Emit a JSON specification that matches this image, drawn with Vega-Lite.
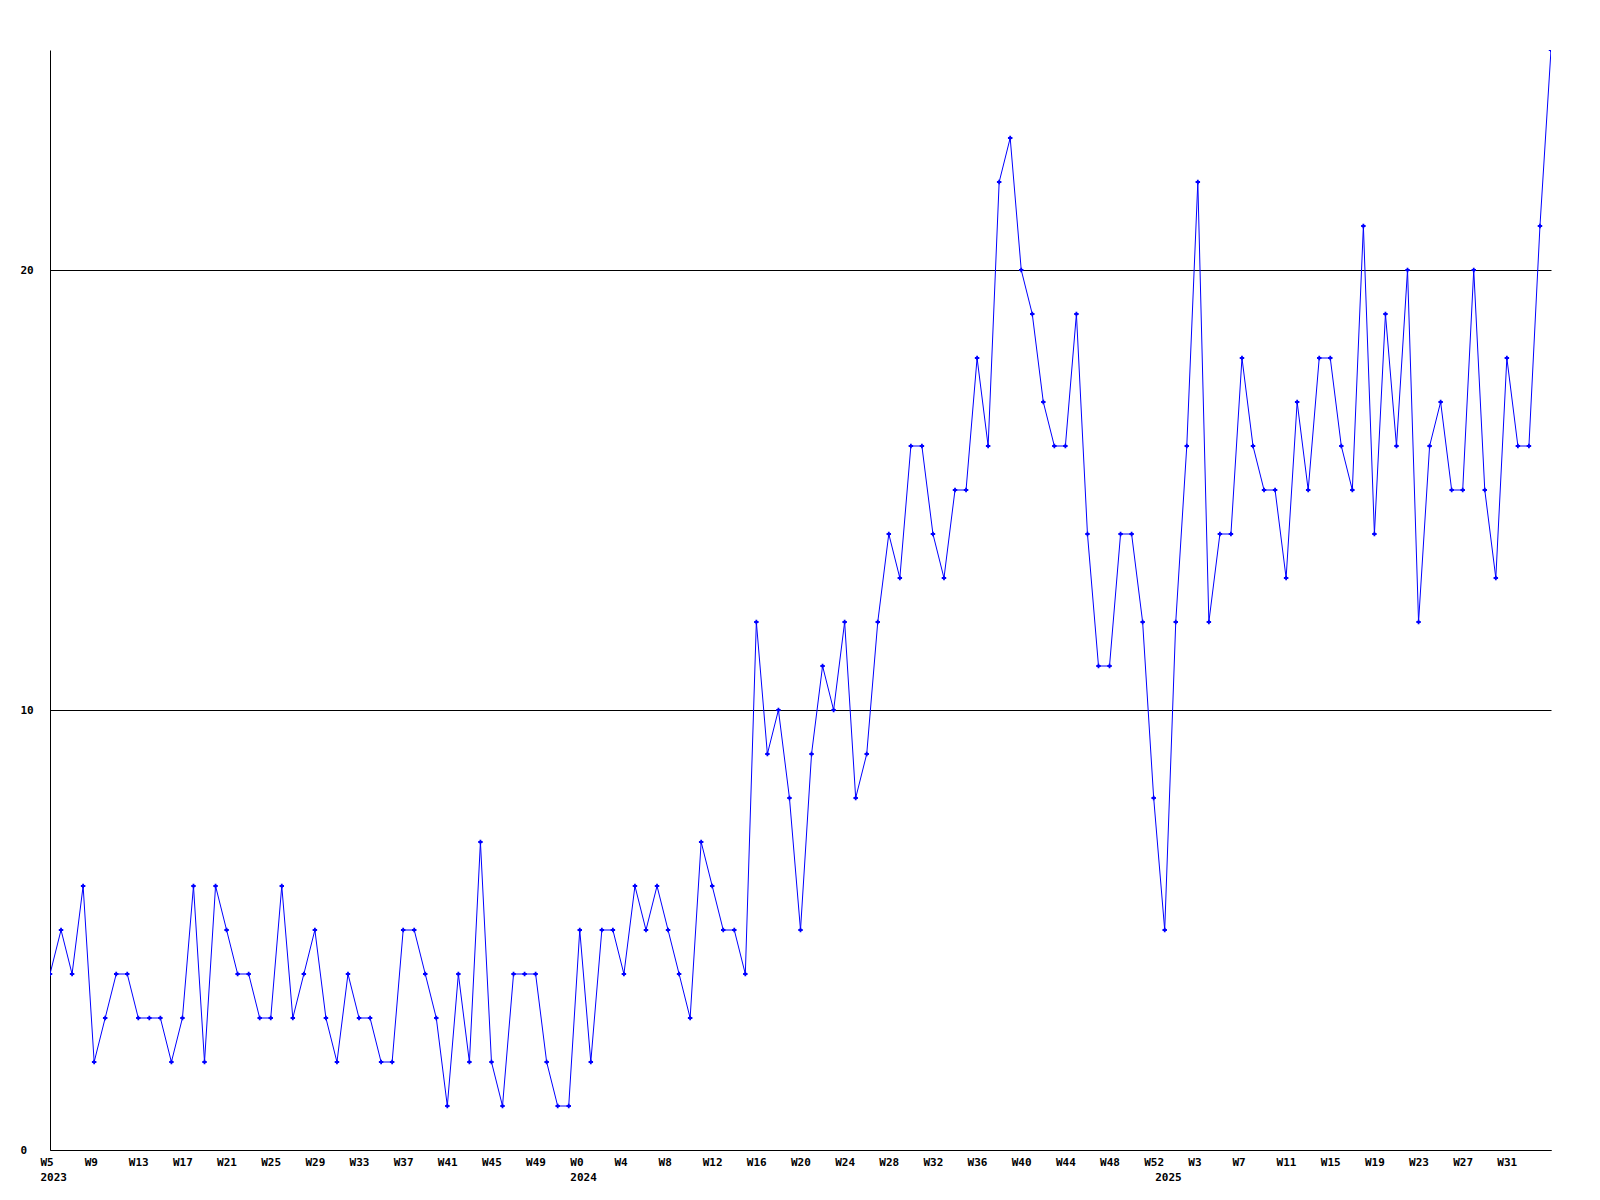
{
  "$schema": "https://vega.github.io/schema/vega-lite/v6.json",
  "width": 1501,
  "height": 1100,
  "autosize": "none",
  "padding": {"left": 50, "top": 50, "right": 49, "bottom": 50},
  "background": "white",
  "config": {
    "view": {"stroke": null},
    "axis": {"labelFont": "DejaVu Sans Mono", "labelFontWeight": "bold", "labelFontSize": 11, "labelColor": "black", "domainColor": "black", "domainWidth": 1, "ticks": false, "tickSize": 0, "title": null}
  },
  "data": {"values": [
    {"week": "2023 W5", "count": 4}, {"week": "2023 W6", "count": 5}, {"week": "2023 W7", "count": 4}, {"week": "2023 W8", "count": 6},
    {"week": "2023 W9", "count": 2}, {"week": "2023 W10", "count": 3}, {"week": "2023 W11", "count": 4}, {"week": "2023 W12", "count": 4},
    {"week": "2023 W13", "count": 3}, {"week": "2023 W14", "count": 3}, {"week": "2023 W15", "count": 3}, {"week": "2023 W16", "count": 2},
    {"week": "2023 W17", "count": 3}, {"week": "2023 W18", "count": 6}, {"week": "2023 W19", "count": 2}, {"week": "2023 W20", "count": 6},
    {"week": "2023 W21", "count": 5}, {"week": "2023 W22", "count": 4}, {"week": "2023 W23", "count": 4}, {"week": "2023 W24", "count": 3},
    {"week": "2023 W25", "count": 3}, {"week": "2023 W26", "count": 6}, {"week": "2023 W27", "count": 3}, {"week": "2023 W28", "count": 4},
    {"week": "2023 W29", "count": 5}, {"week": "2023 W30", "count": 3}, {"week": "2023 W31", "count": 2}, {"week": "2023 W32", "count": 4},
    {"week": "2023 W33", "count": 3}, {"week": "2023 W34", "count": 3}, {"week": "2023 W35", "count": 2}, {"week": "2023 W36", "count": 2},
    {"week": "2023 W37", "count": 5}, {"week": "2023 W38", "count": 5}, {"week": "2023 W39", "count": 4}, {"week": "2023 W40", "count": 3},
    {"week": "2023 W41", "count": 1}, {"week": "2023 W42", "count": 4}, {"week": "2023 W43", "count": 2}, {"week": "2023 W44", "count": 7},
    {"week": "2023 W45", "count": 2}, {"week": "2023 W46", "count": 1}, {"week": "2023 W47", "count": 4}, {"week": "2023 W48", "count": 4},
    {"week": "2023 W49", "count": 4}, {"week": "2023 W50", "count": 2}, {"week": "2023 W51", "count": 1}, {"week": "2023 W52", "count": 1},
    {"week": "2024 W0", "count": 5}, {"week": "2024 W1", "count": 2}, {"week": "2024 W2", "count": 5}, {"week": "2024 W3", "count": 5},
    {"week": "2024 W4", "count": 4}, {"week": "2024 W5", "count": 6}, {"week": "2024 W6", "count": 5}, {"week": "2024 W7", "count": 6},
    {"week": "2024 W8", "count": 5}, {"week": "2024 W9", "count": 4}, {"week": "2024 W10", "count": 3}, {"week": "2024 W11", "count": 7},
    {"week": "2024 W12", "count": 6}, {"week": "2024 W13", "count": 5}, {"week": "2024 W14", "count": 5}, {"week": "2024 W15", "count": 4},
    {"week": "2024 W16", "count": 12}, {"week": "2024 W17", "count": 9}, {"week": "2024 W18", "count": 10}, {"week": "2024 W19", "count": 8},
    {"week": "2024 W20", "count": 5}, {"week": "2024 W21", "count": 9}, {"week": "2024 W22", "count": 11}, {"week": "2024 W23", "count": 10},
    {"week": "2024 W24", "count": 12}, {"week": "2024 W25", "count": 8}, {"week": "2024 W26", "count": 9}, {"week": "2024 W27", "count": 12},
    {"week": "2024 W28", "count": 14}, {"week": "2024 W29", "count": 13}, {"week": "2024 W30", "count": 16}, {"week": "2024 W31", "count": 16},
    {"week": "2024 W32", "count": 14}, {"week": "2024 W33", "count": 13}, {"week": "2024 W34", "count": 15}, {"week": "2024 W35", "count": 15},
    {"week": "2024 W36", "count": 18}, {"week": "2024 W37", "count": 16}, {"week": "2024 W38", "count": 22}, {"week": "2024 W39", "count": 23},
    {"week": "2024 W40", "count": 20}, {"week": "2024 W41", "count": 19}, {"week": "2024 W42", "count": 17}, {"week": "2024 W43", "count": 16},
    {"week": "2024 W44", "count": 16}, {"week": "2024 W45", "count": 19}, {"week": "2024 W46", "count": 14}, {"week": "2024 W47", "count": 11},
    {"week": "2024 W48", "count": 11}, {"week": "2024 W49", "count": 14}, {"week": "2024 W50", "count": 14}, {"week": "2024 W51", "count": 12},
    {"week": "2024 W52", "count": 8},
    {"week": "2025 W0", "count": 5}, {"week": "2025 W1", "count": 12}, {"week": "2025 W2", "count": 16}, {"week": "2025 W3", "count": 22},
    {"week": "2025 W4", "count": 12}, {"week": "2025 W5", "count": 14}, {"week": "2025 W6", "count": 14}, {"week": "2025 W7", "count": 18},
    {"week": "2025 W8", "count": 16}, {"week": "2025 W9", "count": 15}, {"week": "2025 W10", "count": 15}, {"week": "2025 W11", "count": 13},
    {"week": "2025 W12", "count": 17}, {"week": "2025 W13", "count": 15}, {"week": "2025 W14", "count": 18}, {"week": "2025 W15", "count": 18},
    {"week": "2025 W16", "count": 16}, {"week": "2025 W17", "count": 15}, {"week": "2025 W18", "count": 21}, {"week": "2025 W19", "count": 14},
    {"week": "2025 W20", "count": 19}, {"week": "2025 W21", "count": 16}, {"week": "2025 W22", "count": 20}, {"week": "2025 W23", "count": 12},
    {"week": "2025 W24", "count": 16}, {"week": "2025 W25", "count": 17}, {"week": "2025 W26", "count": 15}, {"week": "2025 W27", "count": 15},
    {"week": "2025 W28", "count": 20}, {"week": "2025 W29", "count": 15}, {"week": "2025 W30", "count": 13}, {"week": "2025 W31", "count": 18},
    {"week": "2025 W32", "count": 16}, {"week": "2025 W33", "count": 16}, {"week": "2025 W34", "count": 21}, {"week": "2025 W35", "count": 25}
  ]},
  "encoding": {
    "x": {
      "field": "week", "type": "ordinal", "sort": null,
      "scale": {"type": "point", "padding": 0},
      "axis": {
        "values": ["2023 W5", "2023 W9", "2023 W13", "2023 W17", "2023 W21", "2023 W25", "2023 W29", "2023 W33", "2023 W37", "2023 W41", "2023 W45", "2023 W49",
                   "2024 W0", "2024 W4", "2024 W8", "2024 W12", "2024 W16", "2024 W20", "2024 W24", "2024 W28", "2024 W32", "2024 W36", "2024 W40", "2024 W44", "2024 W48", "2024 W52",
                   "2025 W0", "2025 W3", "2025 W7", "2025 W11", "2025 W15", "2025 W19", "2025 W23", "2025 W27", "2025 W31"],
        "labelExpr": "datum.value == '2025 W0' ? [' ', '2025'] : indexof(['2023 W5', '2024 W0'], datum.value) >= 0 ? [split(datum.value, ' ')[1], split(datum.value, ' ')[0]] : split(datum.value, ' ')[1]",
        "labelAngle": 0,
        "labelAlign": "left",
        "labelBaseline": "top",
        "labelOffset": -10,
        "labelPadding": 6,
        "labelLineHeight": 15,
        "labelOverlap": false,
        "grid": false
      }
    },
    "y": {
      "field": "count", "type": "quantitative",
      "scale": {"domain": [0, 25], "nice": false, "zero": true},
      "axis": {
        "values": [0, 10, 20],
        "grid": true, "gridColor": "black", "gridOpacity": 1, "gridWidth": 1,
        "labelAlign": "left", "labelBaseline": "middle", "labelPadding": 30
      }
    }
  },
  "layer": [
    {"mark": {"type": "line", "color": "#0000ff", "strokeWidth": 1, "clip": true}},
    {"mark": {"type": "point", "shape": "cross", "filled": true, "size": 20, "color": "#0000ff", "opacity": 1, "clip": true}}
  ]
}
